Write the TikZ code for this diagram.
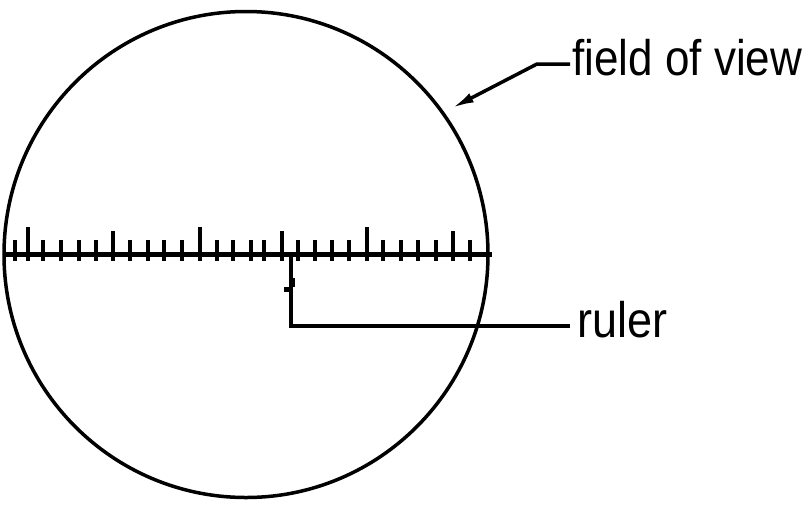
\documentclass[tikz,border=0pt]{standalone}
\usepackage{fontspec}
\setmainfont{Liberation Sans}
\usetikzlibrary{arrows.meta}
\tikzset{
  fovline/.style={line width=3.5pt},
  rulerline/.style={line width=5pt},
  tickmark/.style={line width=4.5pt},
  lbl/.style={anchor=base west, inner sep=0pt, font=\fontsize{50}{50}\selectfont},
  leader/.style={line width=4.5pt, line join=miter},
}
\begin{document}
\begin{tikzpicture}[x=1pt,y=-1pt,line cap=butt]
\useasboundingbox (0,0) rectangle (808,504);
% field of view circle
\draw[fovline] (246,254.5) ellipse [x radius=242, y radius=243];
% ruler
\coordinate (rl) at (3,254.5);
\coordinate (rr) at (492,254.5);
\draw[rulerline] (rl) -- (rr);
\foreach \x/\t in {15/240,28/227,43/240,61/240,79/240,96/240,113/231,130/240,148/240,164/240,182/240,200/227,217/240,233/240,251/240,264/240,282/231,298/240,315/240,332/240,349/240,367/227,383/240,401/240,418/240,436/240,453/231,470/240}
  \draw[tickmark] (\x,\t) -- (\x,261);
% labels
\node[lbl] (fov) at (572,75) {\scalebox{0.88}[1]{field of view}};
\node[lbl] (rul) at (577,337) {\scalebox{0.9}[1]{ruler}};
% field of view leader
\coordinate (fovtip) at (452,108);
\draw[fovline, -{Latex[length=22pt,width=10pt]}] ([xshift=-2pt,yshift=11pt]fov.base west) -- ++(-33,0) -- (fovtip);
% ruler leader
\coordinate (rulertop) at (291,257);
\draw[leader] ([xshift=-7pt,yshift=11pt]rul.base west) -- (291,326) -- (rulertop);
\fill (284,287) rectangle (290,292);
\fill (292,278) rectangle (295,287);
\end{tikzpicture}
\end{document}
